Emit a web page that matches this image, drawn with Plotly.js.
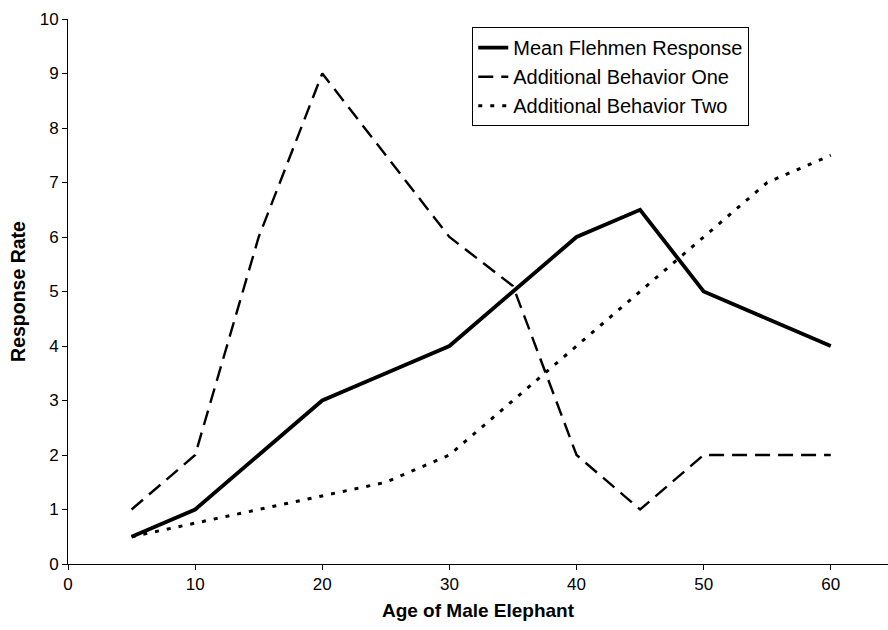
<!DOCTYPE html>
<html>
<head>
<meta charset="utf-8">
<script src="https://cdn.plot.ly/plotly-3.0.1.min.js"></script>
<style>html,body{margin:0;padding:0;background:#fff;}#chart{width:888px;height:630px;}</style>
</head>
<body>
<div id="chart"></div>
<script>
const ages = [5, 10, 15, 20, 25, 30, 35, 40, 45, 50, 55, 60];
const meanFlehmen = [0.5, 1, 2, 3, 3.5, 4, 5, 6, 6.5, 5, 4.5, 4];
const behaviorOne = [1, 2, 6, 9, 7.5, 6, 5.1, 2, 1, 2, 2, 2];
const behaviorTwo = [0.5, 0.75, 1, 1.25, 1.5, 2, 3, 4, 5, 6, 7, 7.5];
const seriesNames = ["Mean Flehmen Response", "Additional Behavior One", "Additional Behavior Two"];
const xTicks = [0, 10, 20, 30, 40, 50, 60];
const yTicks = [0, 1, 2, 3, 4, 5, 6, 7, 8, 9, 10];

const traces = [
  {x: ages, y: meanFlehmen, name: seriesNames[0], mode: "lines", legendgroup: "a",
   line: {color: "#000", width: 3.8}},
  {x: ages, y: behaviorOne, name: seriesNames[1], mode: "lines", legendgroup: "b",
   line: {color: "#000", width: 2.4, dash: "15px,8px"}},
  {x: ages, y: behaviorTwo, name: seriesNames[2], mode: "lines", legendgroup: "c",
   line: {color: "#000", width: 3, dash: "4px,8px"}}
];

const layout = {
  width: 888, height: 630,
  margin: {l: 68, r: 0, t: 19, b: 66},
  paper_bgcolor: "#fff", plot_bgcolor: "#fff",
  font: {family: "Liberation Sans, Arial, sans-serif", color: "#000", size: 17},
  showlegend: true,
  legend: {
    x: 0.493, y: 0.985, xanchor: "left", yanchor: "top",
    bordercolor: "#000", borderwidth: 1, bgcolor: "#fff",
    font: {size: 20, color: "#000"},
    traceorder: "grouped", tracegroupgap: 0,
    itemwidth: 30
  },
  xaxis: {
    range: [0, 64.5], tickvals: xTicks, ticktext: xTicks.map(String),
    showgrid: false, zeroline: false, showline: true, linecolor: "#000", linewidth: 1,
    ticks: "outside", ticklen: 5, tickcolor: "#000",
    tickfont: {size: 17},
    title: {text: "<b>Age of Male Elephant</b>", font: {size: 19}, standoff: 10}
  },
  yaxis: {
    range: [0, 10], tickvals: yTicks, ticktext: yTicks.map(String),
    showgrid: false, zeroline: false, showline: true, linecolor: "#000", linewidth: 1,
    ticks: "outside", ticklen: 5, tickcolor: "#000",
    tickfont: {size: 17},
    title: {text: "<b>Response Rate</b>", font: {size: 19.5}, standoff: 8}
  }
};

Plotly.newPlot("chart", traces, layout, {displayModeBar: false, staticPlot: true});
</script>
</body>
</html>
